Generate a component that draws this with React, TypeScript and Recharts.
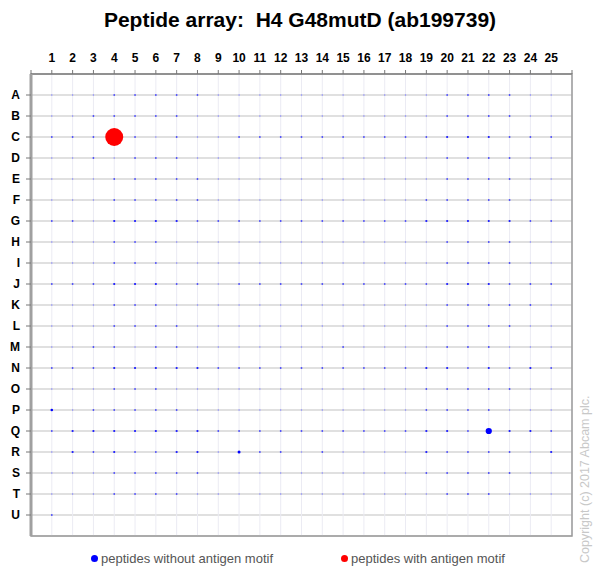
import React from "react";
import { ScatterChart, Scatter, XAxis, YAxis, CartesianGrid, ReferenceArea } from "recharts";

const columns = [1, 2, 3, 4, 5, 6, 7, 8, 9, 10, 11, 12, 13, 14, 15, 16, 17, 18, 19, 20, 21, 22, 23, 24, 25];
const rows = ["A", "B", "C", "D", "E", "F", "G", "H", "I", "J", "K", "L", "M", "N", "O", "P", "Q", "R", "S", "T", "U"];
const xTicks = [0, ...columns, 26];
const yTicks = rows.map((_, i) => i + 1);

// signal per spot, one list per row (A..U), columns 1..25
const signalA = [1, 1, 1, 2, 2, 2, 2, 2, 1, 1, 1, 1, 1, 1, 1, 1, 1, 1, 1, 2, 2, 2, 2, 1, 1];
const signalB = [1, 1, 2, 2, 2, 2, 2, 1, 1, 1, 1, 1, 1, 1, 1, 1, 1, 1, 1, 2, 2, 2, 2, 1, 1];
const signalC = [2, 2, 2, 0, 2, 1, 2, 1, 1, 2, 2, 2, 2, 2, 2, 2, 2, 2, 2, 3, 3, 3, 2, 2, 2];
const signalD = [1, 1, 2, 1, 2, 2, 2, 1, 1, 1, 1, 1, 1, 1, 1, 1, 1, 1, 1, 2, 2, 2, 2, 1, 1];
const signalE = [1, 1, 1, 2, 2, 2, 2, 2, 1, 1, 1, 1, 1, 1, 1, 1, 1, 1, 1, 2, 2, 2, 2, 1, 1];
const signalF = [1, 1, 1, 2, 2, 2, 2, 2, 1, 1, 1, 1, 1, 1, 1, 1, 1, 1, 2, 2, 2, 2, 2, 1, 1];
const signalG = [2, 2, 1, 3, 3, 3, 3, 2, 2, 2, 2, 2, 2, 2, 2, 2, 2, 2, 3, 3, 3, 3, 3, 2, 2];
const signalH = [1, 1, 1, 2, 2, 2, 1, 1, 1, 1, 1, 1, 1, 1, 1, 1, 1, 1, 1, 2, 2, 2, 2, 1, 1];
const signalI = [1, 1, 1, 2, 2, 2, 1, 1, 1, 1, 1, 1, 1, 1, 1, 1, 1, 1, 1, 2, 2, 2, 2, 1, 1];
const signalJ = [2, 2, 2, 3, 3, 3, 2, 2, 1, 2, 2, 2, 2, 2, 2, 2, 2, 2, 2, 3, 3, 3, 2, 2, 2];
const signalK = [1, 1, 1, 2, 2, 2, 1, 1, 1, 1, 1, 1, 1, 1, 1, 1, 1, 1, 1, 2, 2, 2, 2, 2, 1];
const signalL = [1, 1, 1, 2, 2, 2, 2, 1, 1, 1, 1, 1, 1, 1, 1, 1, 1, 1, 1, 2, 2, 2, 2, 1, 1];
const signalM = [1, 1, 2, 2, 1, 2, 2, 1, 1, 1, 1, 1, 1, 1, 2, 1, 1, 1, 1, 2, 2, 2, 1, 1, 1];
const signalN = [2, 2, 2, 3, 3, 3, 3, 3, 2, 2, 2, 2, 2, 2, 2, 2, 2, 2, 3, 3, 2, 3, 2, 3, 2];
const signalO = [1, 1, 1, 2, 2, 2, 1, 1, 1, 1, 1, 1, 1, 1, 1, 1, 1, 1, 2, 2, 2, 2, 2, 1, 1];
const signalP = [4, 1, 2, 2, 2, 2, 2, 1, 1, 1, 1, 1, 1, 1, 1, 1, 1, 1, 2, 2, 2, 2, 1, 1, 1];
const signalQ = [2, 3, 3, 3, 3, 3, 3, 3, 2, 2, 2, 2, 2, 2, 2, 2, 2, 2, 3, 3, 2, 12, 3, 3, 2];
const signalR = [1, 3, 2, 3, 2, 2, 3, 3, 1, 5, 2, 2, 1, 2, 1, 1, 1, 1, 3, 2, 2, 2, 2, 1, 3];
const signalS = [1, 1, 1, 2, 2, 2, 2, 2, 1, 1, 1, 1, 1, 1, 1, 1, 1, 1, 2, 2, 2, 2, 2, 1, 1];
const signalT = [1, 1, 1, 2, 2, 2, 2, 1, 1, 1, 1, 1, 1, 1, 1, 1, 1, 1, 1, 2, 2, 2, 1, 1, 1];
const signalU = [2, 0, 0, 0, 0, 0, 0, 0, 0, 0, 0, 0, 0, 0, 0, 0, 0, 0, 0, 0, 0, 0, 0, 0, 0];

const signals = [signalA, signalB, signalC, signalD, signalE, signalF, signalG, signalH, signalI, signalJ, signalK,
  signalL, signalM, signalN, signalO, signalP, signalQ, signalR, signalS, signalT, signalU];

// spots that carry the antigen motif
const motifSpots = [{ row: "C", col: 4, signal: 100 }];

const withoutMotif = signals.flatMap((vals, r) =>
  vals.map((v, c) => ({ x: columns[c], y: r + 1, z: v })).filter((d) => d.z > 0)
);
const withMotif = motifSpots.map((s) => ({ x: s.col, y: rows.indexOf(s.row) + 1, z: s.signal }));

function Spot(props: any) {
  const { cx, cy, payload, fill } = props;
  if (cx == null || cy == null) return null;
  const v = payload.z;
  const r = v < 10 ? 0.5 + 0.2 * v : 0.9 * Math.sqrt(v);
  const op = Math.min(1, 0.25 + 0.22 * v);
  return <circle cx={cx} cy={cy} r={r} fill={fill} fillOpacity={op} />;
}

const tickStyle = { fill: "#000", fontSize: 12, fontWeight: 700, fontFamily: "Arial, 'Liberation Sans', sans-serif" };

export default function App() {
  return (
    <div style={{ position: "absolute", left: 0, top: 0, width: 600, height: 577, background: "#fff", fontFamily: "Arial, 'Liberation Sans', sans-serif" }}>
      <div style={{ position: "absolute", left: 0, top: 8, width: 600, textAlign: "center", fontSize: 21, fontWeight: 700, color: "#000", whiteSpace: "pre" }}>
        {"Peptide array:  H4 G48mutD (ab199739)"}
      </div>
      <ScatterChart width={600} height={577} margin={{ top: 54, right: 28, bottom: 41, left: 0 }}>
        <CartesianGrid vertical={false} stroke="#d6d6d6" strokeWidth={1.5} />
        <CartesianGrid horizontal={false} stroke="#ebebf3" strokeWidth={1} />
        <XAxis
          type="number"
          dataKey="x"
          orientation="top"
          domain={[0, 26]}
          ticks={xTicks}
          interval={0}
          height={20}
          tickSize={4}
          tickMargin={8}
          tick={tickStyle}
          tickFormatter={(v: number) => (v === 0 || v === 26 ? "" : String(v))}
          axisLine={{ stroke: "#888", strokeWidth: 1.5 }}
          tickLine={{ stroke: "#777" }}
        />
        <YAxis
          type="number"
          dataKey="y"
          reversed
          domain={[0, 22]}
          ticks={yTicks}
          interval={0}
          width={31}
          tickSize={5}
          tickMargin={6}
          tick={tickStyle}
          tickFormatter={(v: number) => rows[v - 1] ?? ""}
          axisLine={{ stroke: "#a0a0a0", strokeWidth: 3 }}
          tickLine={{ stroke: "#777" }}
        />
        <ReferenceArea x1={0} x2={26} y1={0} y2={22} fill="none" stroke="#999" strokeWidth={1.5} />
        <Scatter name="peptides without antigen motif" data={withoutMotif} fill="#0000ff" shape={Spot} isAnimationActive={false} />
        <Scatter name="peptides with antigen motif" data={withMotif} fill="#ff0000" shape={Spot} isAnimationActive={false} />
      </ScatterChart>
      <div style={{ position: "absolute", left: 91, top: 551, display: "flex", alignItems: "center", fontSize: 13, color: "#555" }}>
        <span style={{ width: 7, height: 7, borderRadius: "50%", background: "#0000ff", marginRight: 3 }} />
        peptides without antigen motif
      </div>
      <div style={{ position: "absolute", left: 341, top: 551, display: "flex", alignItems: "center", fontSize: 13, color: "#555" }}>
        <span style={{ width: 7, height: 7, borderRadius: "50%", background: "#ff0000", marginRight: 3 }} />
        peptides with antigen motif
      </div>
      <div style={{ position: "absolute", left: 585, top: 563, transform: "rotate(-90deg)", transformOrigin: "0 0", whiteSpace: "nowrap", fontSize: 12.5, color: "#c8c8c8", marginLeft: -7 }}>
        Copyright (c) 2017 Abcam plc.
      </div>
    </div>
  );
}
